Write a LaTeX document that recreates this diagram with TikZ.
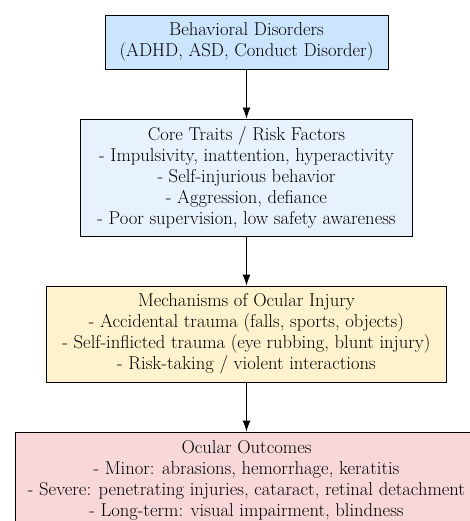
\documentclass[tikz,border=0pt]{standalone}
\usetikzlibrary{arrows.meta}
\tikzset{>={Latex[length=11pt,width=8pt]}}
\tikzset{box/.style={draw, line width=0.9pt, align=center,
    font=\fontsize{18.6}{21}\selectfont, inner sep=0pt}}
\definecolor{disorderfill}{HTML}{CCE5FF}
\definecolor{traitfill}{HTML}{E8F1FE}
\definecolor{mechfill}{HTML}{FFF2CC}
\definecolor{outcomefill}{HTML}{F8D7DA}

\begin{document}
\begin{tikzpicture}[x=1pt, y=1pt]
\useasboundingbox (0,0) rectangle (470,-521);
\node[box, fill=disorderfill, minimum width=283pt, minimum height=54pt] (disorders) at (246.5,-42)
  {Behavioral Disorders\\(ADHD, ASD, Conduct Disorder)};
\node[box, fill=traitfill, minimum width=332pt, minimum height=117pt] (traits) at (246.5,-177.5)
  {Core Traits / Risk Factors\\- Impulsivity, inattention, hyperactivity\\- Self-injurious behavior\\- Aggression, defiance\\- Poor supervision, low safety awareness};
\node[box, fill=mechfill, minimum width=400pt, minimum height=96pt] (mechanisms) at (246.5,-334)
  {Mechanisms of Ocular Injury\\- Accidental trauma (falls, sports, objects)\\- Self-inflicted trauma (eye rubbing, blunt injury)\\- Risk-taking / violent interactions};
\node[box, fill=outcomefill, minimum width=463pt, minimum height=96pt] (outcomes) at (246.5,-480)
  {Ocular Outcomes\\- Minor: abrasions, hemorrhage, keratitis\\- Severe: penetrating injuries, cataract, retinal detachment\\- Long-term: visual impairment, blindness};

\draw[->, line width=0.9pt] (disorders) -- (traits);
\draw[->, line width=0.9pt] (traits) -- (mechanisms);
\draw[->, line width=0.9pt] (mechanisms) -- (outcomes);
\end{tikzpicture}
\end{document}
